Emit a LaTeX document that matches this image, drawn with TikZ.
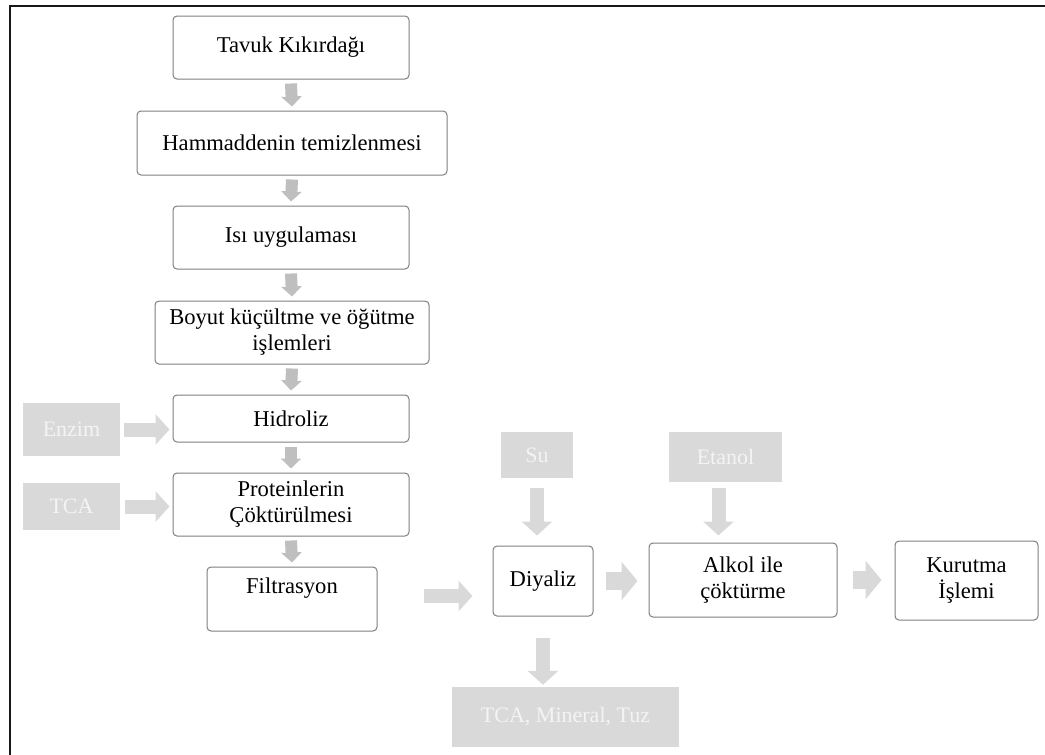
\documentclass[tikz,border=0pt]{standalone}
\usepackage{fontspec}
\setmainfont{Liberation Serif}
\usetikzlibrary{arrows.meta}
\definecolor{box-gray}{HTML}{7F7F7F}
\definecolor{side-gray}{HTML}{D9D9D9}
\definecolor{side-text}{HTML}{F4F4F4}
\definecolor{step-arrow}{HTML}{BFBFBF}

\begin{document}
\begin{tikzpicture}[x=1pt, y=-1pt,
    box/.style={draw=box-gray, line width=1pt, rounded corners=4pt, fill=white,
                align=center, font=\fontsize{22.6}{26}\selectfont, inner sep=2pt},
    side/.style={fill=side-gray, text=side-text, align=center,
                 font=\fontsize{22}{26}\selectfont, inner sep=2pt},
    down/.style={line width=12pt, step-arrow, -{Triangle[width=20pt,length=10pt]}},
    feed/.style={line width=14pt, side-gray, -{Triangle[width=30pt,length=14pt]}},
    flow/.style={line width=18pt, side-gray, -{Triangle[width=38pt,length=16pt]}},
  ]
    \useasboundingbox (0,0) rectangle (1045,755);
    \draw[line width=2.5pt, black!90] (10,755) -- (10,6) -- (1045,6);

    % Main chain
    \node[box, minimum width=236pt, minimum height=63pt] (tavuk) at (291,47.5) {Tavuk Kıkırdağı};
    \node[box, minimum width=310pt, minimum height=64pt] (hamm)  at (292,143)  {Hammaddenin temizlenmesi};
    \node[box, minimum width=236pt, minimum height=63pt] (isi)   at (291,237.5) {Isı uygulaması};
    \node[box, minimum width=274pt, minimum height=63pt] (boyut) at (292,332.5)
          {Boyut küçültme ve öğütme\\işlemleri};
    \node[box, minimum width=236pt, minimum height=47pt] (hidro) at (291,418.5) {Hidroliz};
    \node[box, minimum width=236pt, minimum height=63pt] (prot)  at (291,504.5)
          {Proteinlerin\\Çöktürülmesi};
    \node[box, minimum width=170pt, minimum height=64pt] (filt)  at (292,599) {Filtrasyon\\~};

    % Right chain
    \node[box, minimum width=100pt, minimum height=70pt] (diyaliz) at (543,581) {Diyaliz};
    \node[box, minimum width=188pt, minimum height=74pt] (alkol)   at (743,580) {Alkol ile\\çöktürme};
    \node[box, minimum width=143pt, minimum height=79pt] (kurutma) at (966.5,580.5) {Kurutma\\İşlemi};

    % Inputs and outputs
    \node[side, minimum width=97pt,  minimum height=53pt] (enzim)  at (71.5,429.5) {Enzim};
    \node[side, minimum width=97pt,  minimum height=47pt] (tca)    at (71.5,506.5) {TCA};
    \node[side, minimum width=72pt,  minimum height=46pt] (su)     at (537,455) {Su};
    \node[side, minimum width=113pt, minimum height=50pt] (etanol) at (725.5,457) {Etanol};
    \node[side, minimum width=227pt, minimum height=60pt] (atik)   at (565.5,717) {TCA, Mineral, Tuz};

    % Arrows
    \draw[down] ([yshift=-4pt]tavuk.south) -- ([yshift=4pt]hamm.north);
    \draw[down] ([yshift=-4pt]hamm.south)  -- ([yshift=4pt]isi.north);
    \draw[down] ([yshift=-4pt]isi.south)   -- ([yshift=4pt]boyut.north);
    \draw[down] ([yshift=-4pt]boyut.south) -- ([yshift=4pt]hidro.north);
    \draw[down] ([yshift=-4pt]hidro.south) -- ([yshift=4pt]prot.north);
    \draw[down] ([yshift=-4pt]prot.south)  -- ([yshift=4pt]filt.north);

    \draw[feed] ([xshift=4pt]enzim.east) -- ([xshift=-3pt]enzim.east -| hidro.west);
    \draw[feed] ([xshift=5pt]tca.east)   -- ([xshift=-3pt]tca.east -| prot.west);
    \draw[feed] ([xshift=46pt,yshift=3pt]filt.east) -- ([xshift=-20pt,yshift=3pt]filt.east -| diyaliz.west);
    \draw[feed] ([yshift=-10pt]su.south) -- ([yshift=10pt]su.south |- diyaliz.north);
    \draw[feed] ([xshift=-7pt,yshift=-6pt]etanol.south) -- ([xshift=-7pt,yshift=7pt]etanol.south |- alkol.north);
    \draw[feed] ([yshift=-21pt]diyaliz.south) -- ([yshift=2pt]diyaliz.south |- atik.north);

    \draw[flow] ([xshift=12pt]diyaliz.east) -- ([xshift=-11pt]diyaliz.east -| alkol.west);
    \draw[flow] ([xshift=15pt]alkol.east)   -- ([xshift=-13pt]alkol.east -| kurutma.west);
  \end{tikzpicture}
\end{document}
